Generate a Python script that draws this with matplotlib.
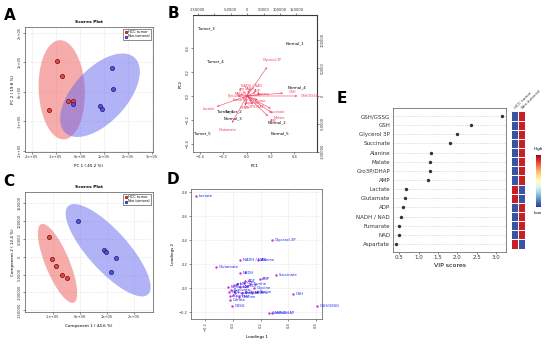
import numpy as np
import matplotlib

matplotlib.use("Agg")
import matplotlib.pyplot as plt
import matplotlib.transforms as mtransforms
from matplotlib.cm import ScalarMappable
from matplotlib.colors import Normalize
from matplotlib.patches import Ellipse

# A. PCA scores
pca_tumor_x = [-0.96e5, -0.75e5, -0.50e5, -0.29e5, -1.30e5]
pca_tumor_y = [1.03e5, 0.53e5, -0.30e5, -0.30e5, -0.63e5]
pca_normal_x = [1.33e5, 1.38e5, -0.30e5, 0.83e5, 0.92e5]
pca_normal_y = [0.80e5, 0.10e5, -0.43e5, -0.47e5, -0.60e5]

# B. biplot
bi_score_names = ["Tumor_1", "Tumor_2", "Tumor_3", "Tumor_4", "Tumor_5",
                  "Normal_1", "Normal_2", "Normal_3", "Normal_4", "Normal_5"]
bi_pc1 = [-0.185, -0.115, -0.34, -0.27, -0.38, 0.405, 0.25, -0.115, 0.42, 0.28]
bi_pc2 = [-0.13, -0.13, 0.56, 0.29, -0.31, 0.44, -0.22, -0.19, 0.07, -0.31]
bi_load_names = ["Glycerol-3P", "GSH/GSSG", "GSH", "Lactate", "Glutamate",
                 "Succinate", "Malate", "AMP", "Gro3P/DHAP", "Alanine", "NADH",
                 "NADH / NAD", "ADP", "ATP", "NAD", "Fumarate", "Aspartate",
                 "GSSG", "Citrate", "Pyruvate"]
bi_load_x = [0.21, 0.53, 0.38, -0.32, -0.16, 0.25, 0.27, 0.22, 0.06, 0.14,
             0.02, 0.04, 0.09, -0.04, -0.07, -0.05, 0.05, -0.02, 0.11, -0.10]
bi_load_y = [0.30, 0.00, 0.03, -0.11, -0.28, -0.13, -0.18, -0.21, -0.09, 0.02,
             0.06, 0.08, 0.04, 0.05, 0.02, -0.03, -0.06, -0.10, -0.04, 0.00]

# C. PLS-DA scores
pls_tumor_x = [-1.15e5, -1.05e5, -0.89e5, -0.68e5, -0.46e5]
pls_tumor_y = [5.6e4, -0.7e4, -2.6e4, -5.2e4, -6.0e4]
pls_normal_x = [-0.06e5, 0.88e5, 0.96e5, 1.33e5, 1.16e5]
pls_normal_y = [1.01e5, 1.85e4, 1.3e4, -0.2e4, -4.3e4]
# 95% regions as drawn: centre (data), full axes (px), angle (deg)
pls_tumor_region = ((-0.83e5, -1.85e4), 85, 24, -67.5)
pls_normal_region = ((1.05e5, 1.85e4), 119, 40, -48)

# D. loadings
load_names = ["Lactate", "Glycerol-3P", "NADH / NAD", "Alanine", "Glutamate",
              "NADH", "Succinate", "AMP", "ADP", "GSH", "GSH/GSSG", "GSSG",
              "Gro3P/DHAP", "Malate",
              "Fumarate", "NAD", "Aspartate", "Citrate", "Pyruvate", "ATP",
              "UTP", "UDP", "GTP", "GDP", "Taurine", "Glycine", "Serine",
              "Proline", "Choline", "Creatine", "Inosine", "Uridine"]
load_1 = [-0.27, 0.28, 0.053, 0.18, -0.125, 0.053, 0.313, 0.193, 0.087, 0.43,
          0.607, -0.01, 0.258, 0.28,
          -0.039, -0.031, -0.024, -0.019, -0.012, 0.005, 0.029, 0.053, 0.077,
          0.101, 0.125, 0.149, 0.173, 0.065, 0.041, 0.096, 0.017, 0.137]
load_2 = [0.77, 0.40, 0.236, 0.236, 0.175, 0.125, 0.111, 0.075, 0.064, -0.047,
          -0.144, -0.144, -0.208, -0.208,
          0.008, -0.028, -0.064, -0.097, -0.014, 0.028, 0.036, 0.014, 0.042,
          0.019, 0.036, 0.0, -0.028, -0.042, -0.069, -0.028, -0.036, -0.042]

# E. VIP scores
vip_names = ["GSH/GSSG", "GSH", "Glycerol 3P", "Succinate", "Alanine", "Malate",
             "Gro3P/DHAP", "AMP", "Lactate", "Glutamate", "ADP", "NADH / NAD",
             "Fumarate", "NAD", "Aspartate"]
vip_scores = [3.15, 2.35, 2.0, 1.80, 1.32, 1.29, 1.29, 1.24, 0.67, 0.66, 0.60,
              0.54, 0.50, 0.48, 0.42]
hcc_level = [0.05, 0.05, 0.05, 0.05, 0.05, 0.05, 0.05, 0.05, 0.93, 0.93, 0.05,
             0.05, 0.05, 0.05, 0.93]
non_level = [0.93, 0.93, 0.93, 0.93, 0.93, 0.93, 0.93, 0.93, 0.05, 0.05, 0.93,
             0.93, 0.93, 0.93, 0.05]

RED_FILL, BLUE_FILL = "#F05A5A", "#6666EE"
W, H = 550, 344
fig = plt.figure(figsize=(5.5, 3.44), dpi=100)


def box(l, t, r, b):
    return [l / W, 1 - b / H, (r - l) / W, (b - t) / H]


def style(ax, size=2.6):
    ax.tick_params(labelsize=size, length=1.5, width=0.4, pad=1, colors="#333333")
    for s in ax.spines.values():
        s.set_linewidth(0.5)
        s.set_color("#555555")


def conf_ellipse(ax, x, y, color):
    # 95% normal-theory region from the group covariance
    x, y = np.asarray(x), np.asarray(y)
    vals, vecs = np.linalg.eigh(np.cov(x, y))
    r = np.sqrt(-2 * np.log(0.05))
    t = np.linspace(0, 2 * np.pi, 200)
    pts = vecs @ (r * np.sqrt(vals)[:, None] * np.vstack([np.cos(t), np.sin(t)]))
    ax.fill(x.mean() + pts[0], y.mean() + pts[1], color=color, alpha=0.5, lw=0, zorder=1)


def px_ellipse(ax, region, color):
    (cx, cy), w, h, ang = region
    tr = fig.dpi_scale_trans + mtransforms.ScaledTranslation(cx, cy, ax.transData)
    ax.add_patch(Ellipse((0, 0), w / 100, h / 100, angle=ang, transform=tr,
                         color=color, alpha=0.5, lw=0, zorder=1))


def scores(ax, tx, ty, nx, ny, xl, yl, xlim, ylim, xt, xtl, yt, ytl):
    ax.scatter(tx, ty, s=9, c="#D05050", edgecolors="#8B0000", lw=0.5, zorder=3,
               label="HCC tumor")
    ax.scatter(nx, ny, s=9, c="#5555CC", edgecolors="#1A1A80", lw=0.5, zorder=3,
               label="Non-tumoral")
    ax.set_xlim(xlim)
    ax.set_ylim(ylim)
    ax.set_xticks(xt, xtl)
    ax.set_yticks(yt, ytl)
    plt.setp(ax.get_yticklabels(), rotation=90, va="center")
    ax.grid(True, ls=":", lw=0.4, color="#cccccc")
    ax.set_axisbelow(True)
    ax.set_xlabel(xl, fontsize=3, labelpad=3)
    ax.set_ylabel(yl, fontsize=3, labelpad=2)
    ax.set_title("Scores Plot", fontsize=3.2, fontweight="bold", pad=3)
    style(ax)
    leg = ax.legend(loc="upper right", fontsize=2.5, markerscale=0.6, handletextpad=0.2,
                    borderpad=0.3, labelspacing=0.2, fancybox=False, framealpha=1,
                    handlelength=0.8, borderaxespad=0.5)
    leg.get_frame().set_linewidth(0.4)
    leg.get_frame().set_edgecolor("#333333")


# A
axA = fig.add_axes(box(25, 27, 153, 152))
scores(axA, pca_tumor_x, pca_tumor_y, pca_normal_x, pca_normal_y,
       "PC 1 ( 45.2 %)", "PC 2 ( 19.8 %)", (-2.29e5, 3.04e5), (-2.05e5, 2.2e5),
       [-2e5, -1e5, 0, 1e5, 2e5, 3e5],
       ["-2e+05", "-1e+05", "0e+00", "1e+05", "2e+05", "3e+05"],
       [-2e5, -1e5, 0, 1e5, 2e5], ["-2e+05", "-1e+05", "0e+00", "1e+05", "2e+05"])
conf_ellipse(axA, pca_tumor_x, pca_tumor_y, RED_FILL)
conf_ellipse(axA, pca_normal_x, pca_normal_y, BLUE_FILL)

# C
axC = fig.add_axes(box(25, 192, 153, 312))
scores(axC, pls_tumor_x, pls_tumor_y, pls_normal_x, pls_normal_y,
       "Component 1 ( 44.6 %)", "Component 2 ( 12.4 %)", (-2.04e5, 2.72e5),
       (-1.55e5, 1.82e5), [-1e5, 0, 1e5, 2e5], ["-1e+05", "0e+00", "1e+05", "2e+05"],
       [-150000, -100000, -50000, 0, 50000, 100000, 150000],
       ["-150000", "-100000", "-50000", "0", "50000", "100000", "150000"])
px_ellipse(axC, pls_tumor_region, RED_FILL)
px_ellipse(axC, pls_normal_region, BLUE_FILL)

# B
KX, KY = 360000, 216000
red = "#F0405E"
axB = fig.add_axes(box(193, 15, 317, 152))
for name, x, y in zip(bi_score_names, bi_pc1, bi_pc2):
    axB.text(x, y, name, fontsize=2.8, ha="center", va="center", color="black")
for name, x, y in zip(bi_load_names, bi_load_x, bi_load_y):
    axB.annotate("", xy=(0.8 * x, 0.8 * y), xytext=(0, 0),
                 arrowprops=dict(arrowstyle="->", color=red, lw=0.4, mutation_scale=3,
                                 shrinkA=0, shrinkB=0))
    axB.text(x, y, name, fontsize=2.4, ha="center", va="center", color=red)
axB.set_xlim(-0.456, 0.59)
axB.set_ylim(-0.467, 0.675)
axB.set_xticks([-0.4, -0.2, 0.0, 0.2, 0.4])
axB.set_yticks([-0.4, -0.2, 0.0, 0.2, 0.4])
plt.setp(axB.get_yticklabels(), rotation=90, va="center")
axB.set_xlabel("PC1", fontsize=3, labelpad=3)
axB.set_ylabel("PC2", fontsize=3, labelpad=2)
style(axB)
top = axB.secondary_xaxis("top", functions=(lambda v: v * KX, lambda v: v / KX))
top.set_xticks([-150000, -100000, -50000, 0, 50000, 100000, 150000],
               ["-150000", "", "-50000", "0", "50000", "100000", "150000"])
right = axB.secondary_yaxis("right", functions=(lambda v: v * KY, lambda v: v / KY))
right.set_yticks([-100000, -50000, 0, 50000, 100000],
                 ["-100000", "-50000", "0", "50000", "100000"])
for sec in (top, right):
    sec.tick_params(labelsize=2.6, length=1.5, width=0.4, pad=1, colors="#333333")
plt.setp(right.get_yticklabels(), rotation=90, va="center")

# D
axD = fig.add_axes(box(191, 189, 322, 319))
axD.scatter(load_1, load_2, s=3, c="#CC33CC", lw=0, zorder=3)
for name, x, y in zip(load_names, load_1, load_2):
    axD.annotate(name, (x, y), xytext=(2, 0), textcoords="offset points",
                 fontsize=2.7, color="#2222EE", va="center")
axD.set_xlim(-0.303, 0.643)
axD.set_ylim(-0.256, 0.828)
axD.set_xticks([-0.2, 0.0, 0.2, 0.4, 0.6])
axD.set_yticks([-0.2, 0.0, 0.2, 0.4, 0.6, 0.8])
plt.setp(axD.get_xticklabels(), rotation=90)
axD.grid(True, ls=":", lw=0.4, color="#cccccc")
axD.set_axisbelow(True)
axD.set_xlabel("Loadings 1", fontsize=3, labelpad=3)
axD.set_ylabel("Loadings 2", fontsize=3, labelpad=3)
style(axD)

# E
rows = np.arange(len(vip_names))[::-1]
axE = fig.add_axes(box(393, 108, 506, 252))
axE.scatter(vip_scores, rows, s=6, c="#333333", lw=0, zorder=3)
axE.set_ylim(-0.88, len(vip_names) - 1 + 0.88)
axE.set_xlim(0.337, 3.26)
axE.set_yticks(rows, vip_names)
axE.set_xticks([0.5, 1.0, 1.5, 2.0, 2.5, 3.0])
axE.grid(True, axis="y", ls=":", lw=0.5, color="#bbbbbb")
axE.set_axisbelow(True)
style(axE, size=4)
axE.tick_params(axis="y", length=0, pad=2)
axE.set_xlabel("VIP scores", fontsize=4.5, labelpad=2)

axH = fig.add_axes(box(511, 108, 525, 252))
heat = np.column_stack([hcc_level, non_level])
axH.pcolormesh([0, 1, 2], np.concatenate([rows + 0.5, [rows[-1] - 0.5]]), heat,
               cmap="RdYlBu_r", vmin=0, vmax=1, edgecolors="white", lw=0.7)
axH.set_ylim(axE.get_ylim())
axH.set_xlim(0, 2)
axH.axis("off")
for i, lab in enumerate(["HCC tumor", "Non-tumoral"]):
    axH.text(i + 0.4, len(vip_names) - 0.3, lab, fontsize=3, rotation=45,
             ha="left", va="bottom", color="#333333")

cax = fig.add_axes(box(535.5, 155, 540.5, 207))
cb = fig.colorbar(ScalarMappable(Normalize(0, 1), "RdYlBu_r"), cax=cax, ticks=[])
cb.outline.set_visible(False)
fig.text(538 / W, 1 - 151 / H, "High", fontsize=3, ha="center", va="bottom")
fig.text(538 / W, 1 - 211 / H, "Low", fontsize=3, ha="center", va="top")

# panel letters
for lab, x, y in [("A", 10, 16), ("B", 173, 14), ("C", 9, 181), ("D", 173, 180),
                  ("E", 342, 98)]:
    fig.text(x / W, 1 - y / H, lab, fontsize=11, fontweight="bold", ha="center",
             va="center")

fig.savefig("out.png", dpi=100)
